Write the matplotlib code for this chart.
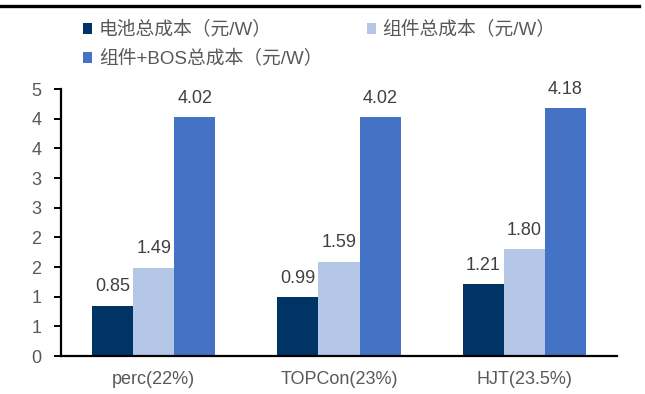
import matplotlib
matplotlib.use("Agg")
import matplotlib.pyplot as plt
from matplotlib.patches import Patch
from matplotlib.lines import Line2D
import numpy as np

plt.rcParams['font.family'] = ['Liberation Sans', 'Noto Sans CJK SC']

categories = ["perc(22%)", "TOPCon(23%)", "HJT(23.5%)"]
cell_cost = [0.85, 0.99, 1.21]
module_cost = [1.49, 1.59, 1.80]
system_cost = [4.02, 4.02, 4.18]
series_names = ["电池总成本（元/W）", "组件总成本（元/W）", "组件+BOS总成本（元/W）"]
y_ticks = [0, 0.5, 1.0, 1.5, 2.0, 2.5, 3.0, 3.5, 4.0, 4.5]
y_tick_labels = ["0", "1", "1", "2", "2", "3", "3", "4", "4", "5"]

colors = ["#003366", "#B4C7E7", "#4472C4"]
text_gray = "#595959"
label_gray = "#404040"

fig = plt.figure(figsize=(6.45, 3.94), dpi=100)
ax = fig.add_axes([0.0946, 0.0964, 0.8620, 0.6777])

x = np.arange(len(categories))
w = 0.222
series = [cell_cost, module_cost, system_cost]
for i, (vals, col) in enumerate(zip(series, colors)):
    bars = ax.bar(x + (i - 1) * w, vals, width=w, color=col, linewidth=0)
    for b, v in zip(bars, vals):
        ax.annotate(f"{v:.2f}", (b.get_x() + b.get_width() / 2, v),
                    xytext=(0, 7.5), textcoords="offset points",
                    ha="center", va="bottom", fontsize=13, color=label_gray)

ax.set_xlim(-0.5, 2.5)
ax.set_ylim(0, 4.5)
ax.set_yticks(y_ticks)
ax.set_yticklabels(y_tick_labels)
ax.set_xticks(x)
ax.set_xticklabels(categories)

for s in ["top", "right"]:
    ax.spines[s].set_visible(False)
for s in ["left", "bottom"]:
    ax.spines[s].set_color("black")
    ax.spines[s].set_linewidth(1.6)

ax.tick_params(axis="y", direction="out", length=5, width=1.4, color="black",
               labelsize=13, labelcolor=text_gray, pad=9)
ax.tick_params(axis="x", length=0, labelsize=13, labelcolor=text_gray, pad=11)

# legend laid out row by row: dark, light on the first row, blue on the second
handles = [Patch(facecolor=c, edgecolor="none") for c in colors]
order = [0, 2, 1]
fig.legend([handles[k] for k in order], [series_names[k] for k in order],
           loc="upper left", bbox_to_anchor=(0.1287, 0.947), ncol=2,
           frameon=False, fontsize=13.5, labelcolor=text_gray,
           handlelength=0.5, handleheight=0.5, handletextpad=0.35,
           columnspacing=2.35, labelspacing=0.6, borderpad=0, borderaxespad=0)

# rule across the top of the figure
fig.add_artist(Line2D([0.0, 0.99], [0.985, 0.985], transform=fig.transFigure,
                      color="black", linewidth=2.4))

fig.savefig("out.png", dpi=100)
